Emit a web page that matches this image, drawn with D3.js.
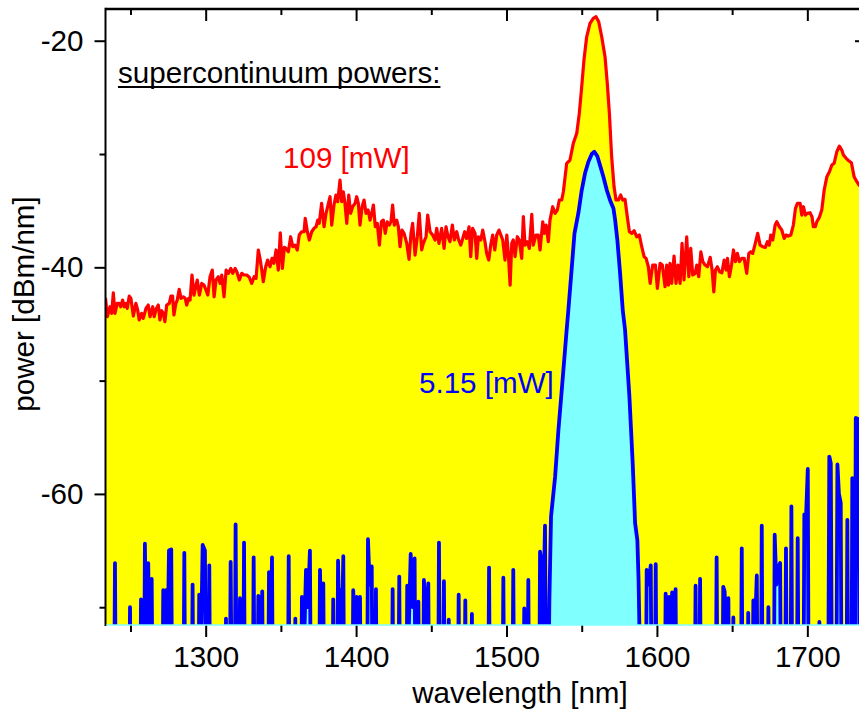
<!DOCTYPE html>
<html>
<head>
<meta charset="utf-8">
<script src="https://cdn.jsdelivr.net/npm/d3@7"></script>
<style>
  html, body { margin: 0; padding: 0; background: #fff; overflow: hidden; }
  svg { display: block; }
  text { font-family: "Liberation Sans", Arial, Helvetica, sans-serif; }
</style>
</head>
<body>
<svg id="chart" width="859" height="711"></svg>
<script>
// Axis ticks
const xMajorTicks = [1300, 1400, 1500, 1600, 1700];
const xMinorTicks = [1250, 1350, 1450, 1550, 1650, 1750];
const yMajorTicks = [-20, -40, -60];
const yMinorTicks = [-30, -50, -70];

// Spectrum at 109 mW supercontinuum power: [wavelength nm, power dBm/nm]
const spectrum109mW = [
  [1233.4,-42.7],[1234.6,-44.36],[1236.4,-43.48],[1237.5,-44.06],[1238.6,-42.25],[1239.7,-44.06],[1241.2,-43.18],[1242.5,-43.18],[1243.5,-43.48],[1244.8,-42.89],
  [1245.9,-43.48],[1247.0,-43.18],[1247.9,-43.62],[1249.2,-42.54],[1250.3,-42.74],[1251.9,-44.30],[1253.6,-43.18],[1254.8,-43.77],[1255.8,-44.65],[1257.4,-44.06],
  [1258.5,-44.51],[1260.3,-43.62],[1261.8,-43.33],[1263.0,-44.36],[1264.8,-43.48],[1265.8,-44.36],[1267.0,-43.71],[1268.5,-43.33],[1269.6,-44.65],[1270.7,-43.83],
  [1271.8,-44.06],[1272.9,-44.80],[1274.1,-43.33],[1275.8,-43.18],[1276.9,-42.54],[1278.0,-42.54],[1278.9,-44.21],[1280.2,-43.18],[1281.1,-42.89],[1282.4,-41.95],
  [1283.6,-42.74],[1285.1,-42.60],[1286.4,-42.74],[1287.4,-43.33],[1288.7,-42.74],[1289.6,-42.89],[1290.9,-40.68],[1292.2,-42.45],[1293.6,-41.57],[1294.4,-41.12],
  [1295.8,-42.45],[1297.4,-41.42],[1298.9,-41.57],[1300.2,-42.00],[1301.4,-42.45],[1302.9,-40.83],[1304.4,-40.24],[1305.6,-42.60],[1306.9,-41.12],[1308.4,-40.83],
  [1309.6,-41.42],[1310.7,-40.68],[1312.2,-42.60],[1313.6,-40.24],[1315.1,-40.53],[1316.7,-40.09],[1318.0,-40.53],[1319.6,-40.09],[1320.7,-40.39],[1322.4,-41.12],
  [1324.0,-40.53],[1325.5,-40.68],[1327.3,-40.68],[1329.0,-40.88],[1330.6,-41.42],[1332.2,-40.83],[1333.5,-40.98],[1335.0,-38.47],[1336.1,-39.21],[1337.3,-40.24],
  [1338.3,-41.27],[1339.9,-39.95],[1341.2,-39.36],[1342.8,-39.95],[1344.1,-39.21],[1345.4,-39.65],[1346.8,-38.47],[1348.3,-40.24],[1349.6,-36.95],[1351.0,-40.09],
  [1352.3,-38.24],[1353.4,-38.33],[1355.0,-38.63],[1356.5,-37.30],[1357.9,-38.18],[1359.4,-38.04],[1360.9,-38.47],[1362.2,-37.15],[1363.8,-36.86],[1365.4,-36.86],
  [1366.2,-35.67],[1367.6,-36.86],[1368.9,-37.59],[1370.5,-36.86],[1372.0,-36.56],[1373.4,-36.42],[1374.5,-35.83],[1375.5,-36.12],[1377.1,-34.35],[1378.7,-36.42],
  [1380.0,-35.24],[1381.1,-34.65],[1382.7,-33.77],[1383.8,-36.27],[1385.3,-34.50],[1386.6,-33.62],[1387.8,-34.21],[1389.3,-32.30],[1390.4,-34.21],[1391.5,-33.33],
  [1392.6,-34.35],[1393.8,-36.12],[1395.1,-33.62],[1396.4,-35.24],[1397.7,-34.65],[1399.3,-34.35],[1400.4,-33.77],[1401.5,-34.35],[1402.6,-36.27],[1404.0,-34.65],
  [1405.3,-34.06],[1406.6,-35.24],[1408.0,-34.94],[1409.3,-35.83],[1410.4,-35.24],[1411.5,-34.50],[1412.8,-36.42],[1414.1,-36.12],[1415.5,-38.04],[1416.8,-35.98],
  [1418.1,-35.83],[1419.4,-37.00],[1420.7,-35.98],[1422.1,-36.27],[1423.2,-35.98],[1424.3,-34.50],[1425.4,-36.27],[1427.0,-35.83],[1428.1,-36.42],[1429.2,-38.18],
  [1430.5,-36.71],[1431.9,-37.00],[1433.7,-37.89],[1435.2,-39.30],[1436.5,-37.00],[1437.6,-36.12],[1439.2,-38.92],[1440.7,-37.30],[1442.0,-35.24],[1443.6,-38.47],
  [1444.7,-37.89],[1446.5,-37.30],[1447.6,-35.39],[1449.2,-36.86],[1450.9,-37.15],[1452.5,-37.59],[1453.6,-36.56],[1455.1,-37.89],[1456.9,-36.56],[1458.5,-38.33],
  [1459.8,-36.42],[1461.1,-37.30],[1462.4,-37.74],[1464.0,-36.27],[1465.3,-37.59],[1466.9,-36.86],[1468.2,-37.59],[1469.6,-38.04],[1470.9,-37.45],[1472.2,-36.86],
  [1473.5,-37.45],[1475.1,-36.42],[1476.2,-39.06],[1477.5,-36.56],[1479.1,-37.00],[1480.2,-39.21],[1481.3,-37.30],[1482.9,-37.59],[1484.2,-36.71],[1485.7,-37.74],
  [1486.8,-38.77],[1488.2,-39.36],[1489.5,-38.04],[1490.8,-37.15],[1492.2,-38.47],[1493.5,-37.15],[1495.0,-36.71],[1497.5,-37.59],[1499.0,-39.36],[1500.2,-37.15],
  [1501.2,-38.77],[1502.4,-41.57],[1503.5,-37.89],[1504.5,-37.59],[1505.7,-39.06],[1507.2,-37.30],[1508.5,-37.59],[1510.1,-39.21],[1511.2,-35.53],[1512.3,-38.04],
  [1513.8,-37.74],[1515.2,-38.33],[1516.8,-35.32],[1517.8,-38.04],[1519.6,-37.15],[1521.1,-37.15],[1522.3,-38.47],[1524.1,-35.98],[1525.1,-37.00],[1526.3,-36.27],
  [1527.8,-37.74],[1528.9,-35.83],[1530.7,-34.65],[1532.3,-35.24],[1533.8,-34.94],[1535.1,-34.06],[1536.7,-34.06],[1537.8,-33.33],[1540.0,-30.82],[1542.2,-30.53],
  [1544.4,-29.06],[1546.7,-28.17],[1548.4,-26.41],[1550.0,-24.06],[1551.5,-21.70],[1553.3,-19.65],[1555.5,-18.46],[1557.7,-18.02],[1559.5,-17.88],[1561.3,-18.32],
  [1563.3,-19.65],[1565.5,-21.41],[1567.0,-23.76],[1568.4,-26.41],[1569.9,-30.24],[1571.5,-32.89],[1572.8,-34.06],[1574.4,-34.06],[1575.9,-33.62],[1577.3,-34.06],
  [1578.8,-34.00],[1580.3,-35.53],[1581.7,-36.86],[1583.3,-37.00],[1584.8,-36.77],[1586.6,-37.30],[1588.3,-37.15],[1589.9,-38.18],[1591.5,-39.06],[1592.8,-39.21],
  [1594.3,-39.95],[1595.5,-41.42],[1597.2,-39.80],[1599.0,-39.80],[1600.3,-41.86],[1602.1,-39.65],[1603.6,-39.80],[1605.4,-41.71],[1606.5,-39.80],[1607.6,-41.57],
  [1608.7,-39.65],[1609.8,-41.42],[1611.4,-39.00],[1612.7,-41.42],[1614.0,-39.80],[1615.4,-41.42],[1616.7,-37.89],[1618.0,-41.12],[1619.8,-37.30],[1621.2,-40.83],
  [1622.5,-38.33],[1623.8,-40.68],[1625.4,-40.53],[1626.5,-39.80],[1627.8,-40.83],[1629.2,-38.63],[1630.5,-39.50],[1632.0,-39.80],[1633.6,-39.95],[1635.4,-39.12],
  [1636.7,-40.24],[1637.8,-42.16],[1638.9,-40.24],[1640.2,-39.95],[1641.6,-40.39],[1643.2,-40.48],[1644.7,-39.36],[1646.0,-40.24],[1646.9,-39.21],[1648.2,-40.83],
  [1649.6,-39.80],[1650.9,-38.47],[1652.2,-39.50],[1653.5,-38.77],[1654.8,-39.50],[1656.4,-39.21],[1658.0,-39.21],[1659.7,-40.53],[1661.1,-38.77],[1662.4,-38.63],
  [1663.7,-38.77],[1665.4,-37.89],[1667.0,-37.00],[1668.6,-38.04],[1670.3,-38.18],[1672.1,-38.24],[1673.4,-37.74],[1674.7,-38.04],[1675.7,-37.15],[1677.0,-37.59],
  [1678.6,-36.27],[1679.7,-35.98],[1681.4,-36.42],[1683.0,-36.71],[1684.6,-37.45],[1685.9,-37.15],[1687.4,-37.24],[1689.0,-37.15],[1690.7,-36.27],[1692.1,-34.80],
  [1693.4,-34.35],[1695.2,-34.35],[1696.3,-35.39],[1697.4,-34.65],[1698.7,-35.39],[1700.0,-35.24],[1701.8,-35.18],[1703.1,-35.53],[1704.0,-36.42],[1705.3,-36.42],
  [1706.3,-35.98],[1708.0,-35.59],[1709.6,-34.94],[1711.2,-33.18],[1713.0,-32.00],[1714.7,-31.56],[1716.3,-30.97],[1717.8,-30.82],[1719.6,-29.80],[1721.3,-29.30],
  [1722.9,-29.65],[1724.0,-30.09],[1725.8,-30.38],[1727.5,-30.59],[1729.3,-30.77],[1731.1,-32.00],[1732.9,-32.44],[1734.4,-32.74],[1736.5,-33.00],[1739.0,-33.20]
];

// Spectrum at 5.15 mW: pump peak plus noise floor spikes (-80 = below detection floor)
const spectrum5mW = [
  [1233.4,-80],
  [1239.1,-80],[1239.7,-66.1],[1240.3,-80],
  [1249.1,-80],[1249.7,-70.0],[1250.3,-80],
  [1256.4,-80],[1257.0,-69.3],[1257.8,-80],
  [1259.0,-80],[1259.6,-64.4],[1260.6,-76],[1261.8,-66.1],[1262.8,-76],[1264.1,-67.5],[1264.8,-80],
  [1271.2,-80],[1271.8,-68.5],[1272.6,-76],[1273.6,-68.5],[1274.6,-74],[1275.6,-65.0],[1277.1,-64.9],[1277.8,-80],
  [1285.2,-80],[1285.8,-65.2],[1286.4,-80],
  [1290.7,-80],[1291.3,-68.0],[1291.9,-80],
  [1295.1,-80],[1295.7,-68.9],[1296.6,-76],[1298.0,-64.5],[1299.5,-65.0],[1300.4,-80],
  [1301.8,-80],[1302.4,-66.3],[1303.0,-80],
  [1312.9,-80],[1313.5,-71.0],[1314.1,-80],
  [1316.0,-80],[1316.6,-66.0],[1317.4,-80],
  [1319.3,-80],[1319.9,-62.7],[1320.6,-80],
  [1322.2,-80],[1322.8,-69.2],[1323.5,-80],
  [1324.9,-80],[1325.5,-64.3],[1326.1,-80],
  [1331.3,-80],[1331.9,-65.6],[1332.6,-80],
  [1334.4,-80],[1335.0,-69.0],[1336.0,-76],[1337.6,-68.6],[1338.2,-80],
  [1341.5,-80],[1342.1,-66.9],[1343.1,-74],[1344.1,-65.6],[1344.7,-80],
  [1354.6,-80],[1355.2,-65.5],[1355.8,-80],
  [1359.0,-80],[1359.6,-71.0],[1360.2,-80],
  [1363.4,-80],[1364.0,-69.1],[1365.3,-74],[1366.7,-66.7],[1368.0,-70],[1369.3,-65.0],[1370.0,-80],
  [1375.4,-80],[1376.0,-66.7],[1377.1,-74],[1378.2,-67.9],[1378.8,-80],
  [1384.2,-80],[1384.8,-69.3],[1385.4,-80],
  [1387.4,-80],[1388.0,-65.9],[1388.9,-72],[1389.8,-68.5],[1390.6,-72],[1391.5,-65.5],[1392.1,-80],
  [1397.5,-80],[1398.1,-68.5],[1399.2,-73],[1400.4,-69.1],[1401.5,-72],[1402.6,-69.1],[1403.2,-80],
  [1407.3,-80],[1407.9,-64.0],[1409.0,-68],[1410.4,-66.4],[1411.0,-80],
  [1412.6,-80],[1413.2,-68.4],[1413.8,-80],
  [1423.7,-80],[1424.3,-68.4],[1424.9,-80],
  [1428.1,-80],[1428.7,-67.3],[1429.3,-80],
  [1433.4,-80],[1434.0,-68.1],[1435.0,-72],[1436.3,-65.3],[1437.6,-70],[1438.9,-65.7],[1439.5,-80],
  [1440.8,-80],[1441.4,-69.5],[1442.0,-80],
  [1444.5,-80],[1445.1,-67.6],[1446.5,-72],[1448.0,-67.9],[1448.6,-80],
  [1454.5,-80],[1455.1,-64.3],[1455.8,-80],
  [1457.8,-80],[1458.4,-67.7],[1459.0,-80],
  [1461.0,-80],[1461.6,-71.1],[1462.2,-80],
  [1467.6,-80],[1468.2,-68.9],[1468.8,-80],
  [1472.0,-80],[1472.6,-69.4],[1473.2,-80],
  [1476.4,-80],[1477.0,-70.6],[1477.6,-80],
  [1487.8,-80],[1488.4,-66.5],[1489.0,-80],
  [1497.3,-80],[1497.9,-67.4],[1498.5,-80],
  [1503.9,-80],[1504.5,-66.7],[1505.1,-80],
  [1511.2,-80],[1511.8,-70.1],[1512.4,-80],
  [1513.9,-80],[1514.5,-67.6],[1515.1,-80],
  [1521.7,-80],[1522.3,-65.1],[1523.4,-66.1],[1524.2,-72],[1525.6,-62.8],[1526.3,-80],
  [1527.6,-80],[1528.5,-69.4],[1529.6,-62.0],[1532.3,-58.5],[1534.5,-54.4],[1537.0,-50.4],[1540.0,-45.5],[1541.1,-43.8],
  [1543.4,-40.0],[1545.2,-37.0],[1547.8,-35.2],[1550.0,-33.2],[1552.2,-31.7],[1554.4,-30.7],[1556.7,-30.0],[1558.4,-29.8],
  [1560.4,-30.2],[1562.2,-31.0],[1564.4,-32.0],[1566.7,-33.2],[1568.9,-34.1],[1571.1,-34.8],[1572.2,-35.8],[1573.7,-37.6],
  [1575.5,-40.5],[1577.3,-43.8],[1578.8,-45.5],[1581.7,-51.4],[1583.9,-57.3],[1585.5,-62.6],[1587.0,-64.1],[1587.8,-67.6],
  [1588.3,-71.4],[1588.9,-80],
  [1592.6,-80],[1593.2,-66.7],[1594.5,-68],[1595.9,-66.3],[1596.5,-80],
  [1598.6,-80],[1599.2,-66.2],[1599.8,-80],
  [1605.2,-80],[1605.8,-68.8],[1606.8,-74],[1608.1,-69.1],[1608.9,-80],
  [1609.5,-80],[1610.1,-68.7],[1611.2,-72],[1612.4,-68.4],[1613.0,-80],
  [1625.1,-80],[1625.7,-68.1],[1626.3,-80],
  [1628.1,-80],[1628.7,-67.5],[1629.3,-80],
  [1639.1,-80],[1639.7,-65.6],[1640.3,-80],
  [1643.5,-80],[1644.1,-68.2],[1645.0,-68.6],[1646.0,-72],[1647.5,-69.2],[1648.2,-80],
  [1650.2,-80],[1650.8,-70.9],[1651.4,-80],
  [1655.8,-80],[1656.4,-64.8],[1657.0,-80],
  [1660.1,-80],[1660.7,-70.5],[1661.3,-80],
  [1663.5,-80],[1664.1,-69.4],[1665.2,-72],[1666.4,-67.2],[1667.0,-80],
  [1669.1,-80],[1669.7,-62.8],[1670.3,-80],
  [1673.5,-80],[1674.1,-70.0],[1674.7,-80],
  [1677.7,-80],[1678.3,-63.6],[1679.4,-68],[1680.4,-66.6],[1681.9,-66.1],[1682.5,-80],
  [1685.2,-80],[1685.8,-64.8],[1686.4,-80],
  [1688.8,-80],[1689.4,-61.1],[1690.0,-80],
  [1693.0,-80],[1693.6,-63.9],[1694.2,-80],
  [1697.4,-80],[1698.0,-61.8],[1699.0,-62.5],[1700.3,-57.8],[1700.9,-80],
  [1707.4,-80],[1708.0,-71.3],[1708.6,-80],
  [1713.8,-80],[1714.6,-56.7],[1715.6,-57.3],[1716.4,-80],
  [1719.2,-80],[1720.0,-57.4],[1721.0,-60.0],[1722.2,-60.8],[1722.8,-80],
  [1726.0,-80],[1726.6,-62.3],[1727.2,-80],
  [1729.3,-80],[1729.9,-58.6],[1730.6,-80],
  [1731.5,-80],[1732.2,-53.3],[1734.0,-53.4],[1734.8,-80],[1739.0,-80]
];

const headerText = "supercontinuum powers:";
const seriesLabels = [
  { text: "109 [mW]", color: "#ff0000", nm: 1351.4, dbm: -31.24 },
  { text: "5.15 [mW]", color: "#0000ff", nm: 1441.8, dbm: -51.05 }
];
const xTitle = "wavelength [nm]";
const yTitle = "power [dBm/nm]";

// Layout
const plot = { left: 105.5, right: 866, top: 9, bottom: 625 };
const FONT = 29.6;

const svg = d3.select("#chart");
const x = d3.scaleLinear().domain([1233.4, 1739]).range([plot.left, plot.right]);
const y = d3.scaleLinear().domain([-71.57, -17.2]).range([plot.bottom, plot.top]);

function styleAxis(sel) {
  sel.select(".domain").remove();
  sel.selectAll(".tick line").attr("stroke", "#000").attr("stroke-width", 2);
  sel.selectAll(".tick text").attr("fill", "#000")
    .style("font-family", '"Liberation Sans", Arial, sans-serif')
    .style("font-size", FONT + "px");
}
const plainNumber = d => String(d);

// Right-hand ticks sit underneath the filled spectra
svg.append("g").attr("transform", `translate(${plot.right},0)`)
  .call(d3.axisRight(y).tickValues(yMajorTicks).tickSize(-11).tickFormat(""))
  .call(styleAxis);
svg.append("g").attr("transform", `translate(${plot.right},0)`)
  .call(d3.axisRight(y).tickValues(yMinorTicks).tickSize(-6).tickFormat(""))
  .call(styleAxis);

svg.append("defs").append("clipPath").attr("id", "plotClip")
  .append("rect")
  .attr("x", plot.left).attr("y", plot.top)
  .attr("width", plot.right - plot.left).attr("height", plot.bottom - plot.top);

const g = svg.append("g").attr("clip-path", "url(#plotClip)");

const area = d3.area().x(d => x(d[0])).y0(plot.bottom).y1(d => y(d[1]));
const line = d3.line().x(d => x(d[0])).y(d => y(d[1]));

// 109 mW: yellow fill and red trace
g.append("path").datum(spectrum109mW).attr("d", area).attr("fill", "#ffff00");
g.append("path").datum(spectrum109mW).attr("d", line)
  .attr("fill", "none").attr("stroke", "#ff0000").attr("stroke-width", 3.2)
  .attr("stroke-linejoin", "round");

// 5.15 mW: cyan fill and blue trace
g.append("path").datum(spectrum5mW).attr("d", area).attr("fill", "#80ffff");
g.append("path").datum(spectrum5mW).attr("d", line)
  .attr("fill", "none").attr("stroke", "#0000ff").attr("stroke-width", 3.8)
  .attr("stroke-linejoin", "round").attr("stroke-linecap", "round");

// Bottom, top and left axes
svg.append("g").attr("transform", `translate(0,${plot.bottom})`)
  .call(d3.axisBottom(x).tickValues(xMajorTicks).tickSize(12).tickPadding(9).tickFormat(plainNumber))
  .call(styleAxis);
svg.append("g").attr("transform", `translate(0,${plot.bottom})`)
  .call(d3.axisBottom(x).tickValues(xMinorTicks).tickSize(7).tickFormat(""))
  .call(styleAxis);
svg.append("g").attr("transform", `translate(0,${plot.top})`)
  .call(d3.axisTop(x).tickValues(xMajorTicks).tickSize(-12).tickFormat(""))
  .call(styleAxis);
svg.append("g").attr("transform", `translate(0,${plot.top})`)
  .call(d3.axisTop(x).tickValues(xMinorTicks).tickSize(-6).tickFormat(""))
  .call(styleAxis);

svg.append("g").attr("transform", `translate(${plot.left},0)`)
  .call(d3.axisLeft(y).tickValues(yMajorTicks).tickSize(11).tickPadding(11).tickFormat(plainNumber))
  .call(styleAxis);
svg.append("g").attr("transform", `translate(${plot.left},0)`)
  .call(d3.axisLeft(y).tickValues(yMinorTicks).tickSize(6).tickFormat(""))
  .call(styleAxis);

// Frame lines
svg.append("line").attr("x1", plot.left).attr("x2", plot.left)
  .attr("y1", plot.top - 1.2).attr("y2", plot.bottom + 1)
  .attr("stroke", "#000").attr("stroke-width", 2);
svg.append("line").attr("x1", plot.left).attr("x2", plot.right)
  .attr("y1", plot.top).attr("y2", plot.top)
  .attr("stroke", "#000").attr("stroke-width", 2.5);
svg.append("line").attr("x1", plot.left + 1).attr("x2", plot.right)
  .attr("y1", plot.bottom).attr("y2", plot.bottom)
  .attr("stroke", "#80ffff").attr("stroke-width", 1.6);

// Header with underline
const header = svg.append("text").attr("x", 118).attr("y", 83)
  .style("font-size", FONT + "px").attr("fill", "#000").text(headerText);
const hw = header.node().getComputedTextLength();
svg.append("line").attr("x1", 118).attr("x2", 118 + hw)
  .attr("y1", 87).attr("y2", 87).attr("stroke", "#000").attr("stroke-width", 2);

// Series labels
seriesLabels.forEach(l => {
  svg.append("text").attr("x", x(l.nm)).attr("y", y(l.dbm))
    .style("font-size", FONT + "px").attr("fill", l.color).text(l.text);
});

// Axis titles
svg.append("text").attr("x", 520).attr("y", 703).attr("text-anchor", "middle")
  .style("font-size", FONT + "px").attr("fill", "#000").text(xTitle);
svg.append("text").attr("transform", "translate(34,304) rotate(-90)")
  .attr("text-anchor", "middle")
  .style("font-size", FONT + "px").attr("fill", "#000").text(yTitle);
</script>
</body>
</html>
